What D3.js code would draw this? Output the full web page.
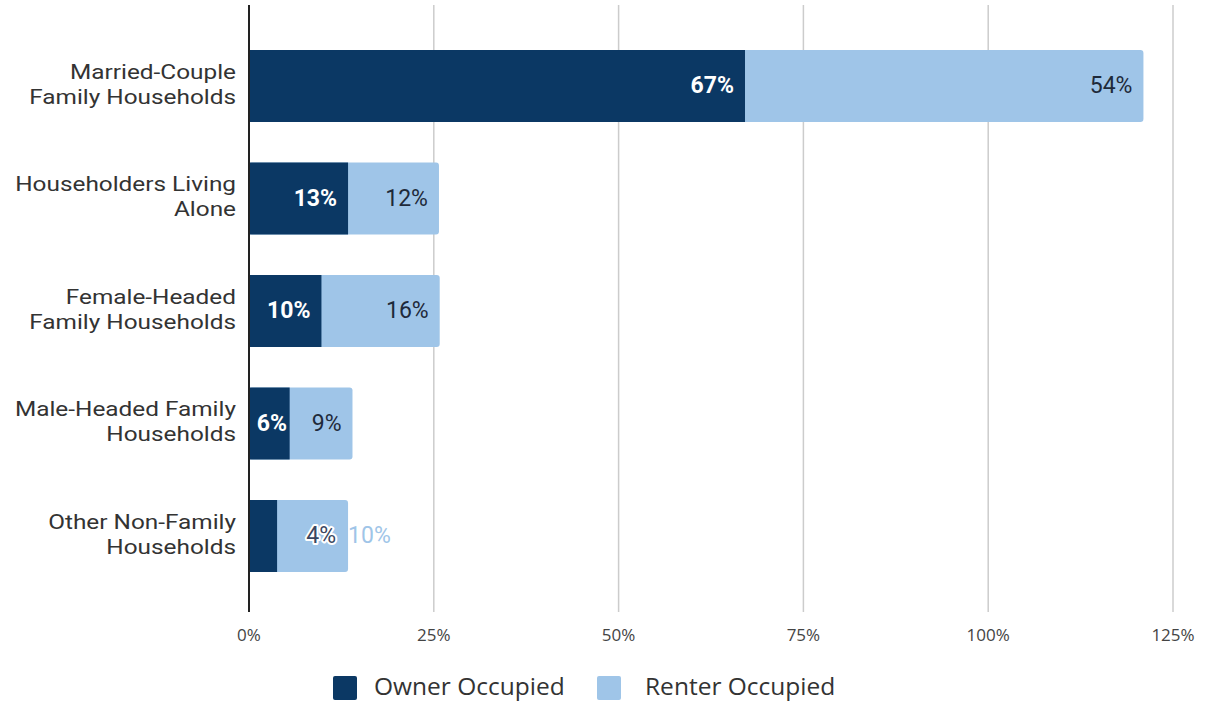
<!DOCTYPE html>
<html>
<head>
<meta charset="utf-8">
<script src="https://cdn.jsdelivr.net/npm/d3@7"></script>
<style>
  body { margin: 0; background: #fff; }
  svg { display: block; }
</style>
</head>
<body>
<svg id="chart" width="1212" height="702"></svg>
<script>
// data
var categories = [
    ["Married-Couple", "Family Households"],
    ["Householders Living", "Alone"],
    ["Female-Headed", "Family Households"],
    ["Male-Headed Family", "Households"],
    ["Other Non-Family", "Households"]
];
var ownerValues = [67.1, 13.4, 9.8, 5.5, 3.8];
var renterValues = [53.9, 12.3, 16.0, 8.5, 9.6];
var xTicks = [0, 25, 50, 75, 100, 125];
var seriesNames = ["Owner Occupied", "Renter Occupied"];

var dark = "#0b3864", light = "#9fc5e8";

var svg = d3.select("#chart");
var x = d3.scaleLinear().domain([0, 125]).range([249, 1173]);
var y = d3.scaleBand().domain(d3.range(categories.length))
    .range([5, 617]).paddingInner(0.36).paddingOuter(0.4);

// gridlines
svg.append("g").selectAll("line")
    .data(xTicks.slice(1))
    .join("line")
    .attr("x1", d => x(d)).attr("x2", d => x(d))
    .attr("y1", 5).attr("y2", 612)
    .attr("stroke", "#cccccc").attr("stroke-width", 1.5);

// x tick labels
svg.append("g").selectAll("text")
    .data(xTicks)
    .join("text")
    .attr("x", d => x(d)).attr("y", 641)
    .attr("text-anchor", "middle")
    .style("font-family", "Open Sans").style("font-size", "17px")
    .attr("fill", "#444")
    .text(d => d + "%");

var rows = categories.map((c, i) => ({i: i, owner: ownerValues[i], renter: renterValues[i]}));

// renter bars (full length, rounded end), owner drawn on top
svg.append("g").selectAll("rect")
    .data(rows)
    .join("rect")
    .attr("x", x(0))
    .attr("y", d => y(d.i))
    .attr("width", d => x(d.owner + d.renter) - x(0))
    .attr("height", y.bandwidth())
    .attr("rx", 3)
    .attr("fill", light);
svg.append("g").selectAll("rect")
    .data(rows)
    .join("rect")
    .attr("x", x(0))
    .attr("y", d => y(d.i))
    .attr("width", d => x(d.owner) - x(0))
    .attr("height", y.bandwidth())
    .attr("fill", dark);

// axis line
svg.append("line")
    .attr("x1", x(0)).attr("x2", x(0))
    .attr("y1", 5).attr("y2", 612)
    .attr("stroke", "#222").attr("stroke-width", 2);

// category labels (the reference glyphs are a little wide, so stretch horizontally)
var cat = svg.append("g")
    .attr("transform", "translate(236,0) scale(1.16,1)")
    .selectAll("text")
    .data(rows)
    .join("text")
    .attr("text-anchor", "end")
    .style("font-family", "Roboto").style("font-size", "21px")
    .attr("fill", "#333");
cat.selectAll("tspan")
    .data(d => categories[d.i].map(t => ({t: t, i: d.i})))
    .join("tspan")
    .attr("x", 0)
    .attr("y", (d, k) => y(d.i) + y.bandwidth() / 2 - 7 + k * 25)
    .text(d => d.t);

// value labels
var labels = svg.append("g")
    .style("font-family", "Roboto").style("font-size", "23px");
rows.forEach(function (d) {
    var cy = y(d.i) + y.bandwidth() / 2 + 7;
    var ownerEnd = x(d.owner), totalEnd = x(d.owner + d.renter);
    if (ownerEnd - x(0) > 34) {
        labels.append("text")
            .attr("x", Math.max(ownerEnd - 11, x(0) + 38))
            .attr("y", cy)
            .attr("text-anchor", "end")
            .attr("font-weight", "bold")
            .attr("fill", "#fff")
            .text(Math.round(d.owner) + "%");
        labels.append("text")
            .attr("x", totalEnd - 11)
            .attr("y", cy)
            .attr("text-anchor", "end")
            .attr("fill", "#1e2a3a")
            .text(Math.round(d.renter) + "%");
    } else {
        // owner segment too small: label collides into renter segment
        labels.append("text")
            .attr("x", totalEnd - 12)
            .attr("y", cy)
            .attr("text-anchor", "end")
            .attr("fill", "#3a4660")
            .attr("stroke", "#fff").attr("stroke-width", 4)
            .attr("paint-order", "stroke")
            .attr("stroke-linejoin", "round")
            .text(Math.round(d.owner) + "%");
        labels.append("text")
            .attr("x", totalEnd)
            .attr("y", cy)
            .attr("fill", light)
            .text(Math.round(d.renter) + "%");
    }
});

// legend
var legend = svg.append("g");
var swatchX = [333, 597], textX = [374, 645];
seriesNames.forEach(function (name, k) {
    legend.append("rect")
        .attr("x", swatchX[k]).attr("y", 676)
        .attr("width", 24).attr("height", 24)
        .attr("rx", 2)
        .attr("fill", k === 0 ? dark : light);
    legend.append("text")
        .attr("x", textX[k]).attr("y", 695)
        .style("font-family", "Open Sans").style("font-size", "24.5px")
        .attr("fill", "#333")
        .text(name);
});
</script>
</body>
</html>
